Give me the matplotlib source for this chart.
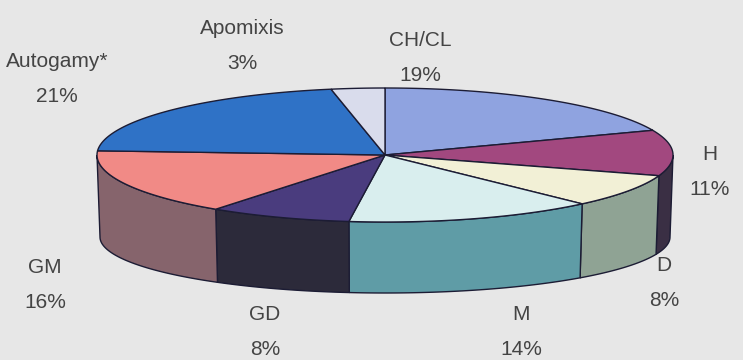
import numpy as np
import matplotlib.pyplot as plt

plt.rcParams['font.family'] = ['Liberation Sans', 'DejaVu Sans']

# slices, clockwise from 12 o'clock
labels = ['CH/CL', 'H', 'D', 'M', 'GD', 'GM', 'Autogamy*', 'Apomixis']
shares = [19, 11, 8, 14, 8, 16, 21, 3]
top_colors = ['#8fa3e0', '#a2487f', '#f2f0d6', '#d9eeee', '#4a3c7e',
              '#f18a86', '#2f72c6', '#d9dcec']
side_colors = ['#6f7fb0', '#3a2f44', '#8fa394', '#5f9ca6', '#2c2a3a',
               '#86646c', '#245a9c', '#a8abb8']

# label anchor points (pixels)
label_pos = [(420, 58), (710, 172), (664, 283), (521, 332), (265, 332),
             (45, 285), (57, 79), (242, 46)]

# pie geometry in pixels: top ellipse and (perspective) bottom ellipse
cx, cy, rx, ry = 385, 155, 288, 67
cyb, rxb, ryb = 237, 285, 56
edge = '#1c1c34'

fig = plt.figure(figsize=(7.43, 3.6), dpi=100)
fig.patch.set_facecolor('#e7e7e7')
ax = fig.add_axes([0, 0, 1, 1])
ax.set_xlim(0, 743)
ax.set_ylim(360, 0)
ax.axis('off')


def top_pt(t):
    return cx + rx * np.cos(t), cy - ry * np.sin(t)


def bot_pt(t):
    return cx + rxb * np.cos(t), cyb - ryb * np.sin(t)


fr = np.array(shares) / sum(shares)
ends = 90 - 360 * np.cumsum(fr)
starts = np.concatenate([[90], ends[:-1]])

# outer walls on the front half
for s, e, c in zip(starts, ends, side_colors):
    a1, a2 = max(e, -180), min(s, 0)
    if a1 >= a2:
        continue
    t = np.radians(np.linspace(a2, a1, 60))
    tx, ty = top_pt(t)
    bx, by = bot_pt(t[::-1])
    ax.fill(np.concatenate([tx, bx]), np.concatenate([ty, by]),
            facecolor=c, edgecolor=edge, lw=1.0, zorder=2)

# top faces
for s, e, c in zip(starts, ends, top_colors):
    t = np.radians(np.linspace(s, e, 80))
    tx, ty = top_pt(t)
    ax.fill(np.concatenate([[cx], tx]), np.concatenate([[cy], ty]),
            facecolor=c, edgecolor=edge, lw=1.0, zorder=3)

for lab, p, (x, y) in zip(labels, shares, label_pos):
    ax.text(x, y, f'{lab}\n{p}%', ha='center', va='center', fontsize=15,
            color='#444444', linespacing=2.05, zorder=4)

fig.savefig('out.png', dpi=100, facecolor=fig.get_facecolor())
